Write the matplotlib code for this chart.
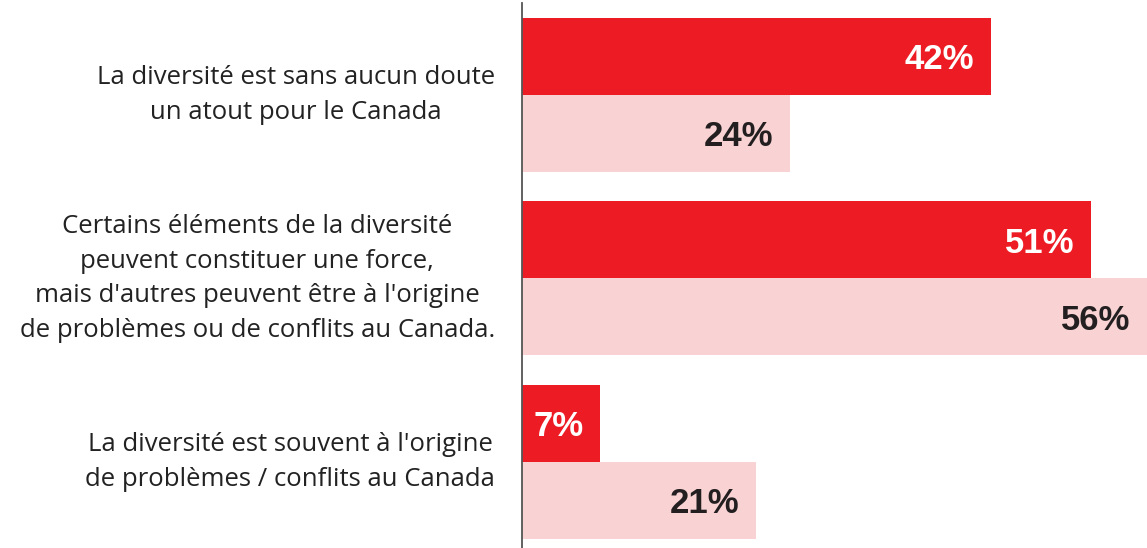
import matplotlib.pyplot as plt
import numpy as np

# statements and the two series (dark red = first series, pink = second)
statements = [
    "La diversité est sans aucun doute\nun atout pour le Canada",
    "Certains éléments de la diversité\npeuvent constituer une force,\nmais d'autres peuvent être à l'origine\nde problèmes ou de conflits au Canada.",
    "La diversité est souvent à l'origine\nde problèmes / conflits au Canada",
]
series_a = [42, 51, 7]
series_b = [24, 56, 21]

dark_red = '#ED1C24'
light_pink = '#F9D3D4'

fig = plt.figure(figsize=(11.47, 5.48), dpi=100)
ax = fig.add_axes([522 / 1147, 0, 1 - 522 / 1147, 545 / 548])

y = np.arange(len(statements))
h = 0.42

bars_a = ax.barh(y - h / 2, series_a, height=h, color=dark_red)
bars_b = ax.barh(y + h / 2, series_b, height=h, color=light_pink)

ax.set_xlim(0, 56)
ax.set_ylim(2.47, -0.5)

for rect, v in zip(bars_a, series_a):
    ax.text(v - 1.5, rect.get_y() + rect.get_height() / 2, f"{v}%",
            ha='right', va='center_baseline', color='white', fontsize=25,
            fontweight='bold', family='Liberation Sans')
for rect, v in zip(bars_b, series_b):
    ax.text(v - 1.5, rect.get_y() + rect.get_height() / 2, f"{v}%",
            ha='right', va='center_baseline', color='#231F20', fontsize=25,
            fontweight='bold', family='Liberation Sans')

# statement labels, centred lines, right edge near x=495px
for yi, s in zip(y, statements):
    ax.text(-27 / (1147 - 522) * 56, yi, s, ha='right', va='center',
            multialignment='center', fontsize=18.5, color='#222222',
            family='Open Sans', linespacing=1.5)

ax.set_xticks([])
ax.set_yticks([])
for side in ['top', 'right', 'bottom']:
    ax.spines[side].set_visible(False)
ax.spines['left'].set_color('#555555')
ax.spines['left'].set_linewidth(1.3)
ax.patch.set_alpha(0)

fig.savefig('out.png', dpi=100)
